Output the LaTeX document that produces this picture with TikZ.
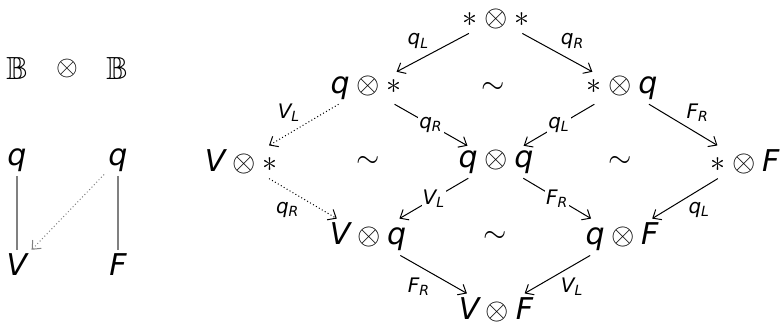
\RequirePackage{fix-cm}
\documentclass[tikz,border=0pt]{standalone}
\usepackage{amssymb}
\usepackage{fontspec}
\setmainfont{DejaVu Sans}
\usetikzlibrary{arrows.meta}
\newcommand{\mq}{\mathit{q}}
\newcommand{\mV}{\mathit{V}}
\newcommand{\mF}{\mathit{F}}
\newcommand{\sub}[1]{_{\mathit{#1}}}

\begin{document}
\begin{tikzpicture}[x=0.5pt, y=-0.5pt, every node/.style={font=\fontsize{15}{18}\selectfont, inner sep=2pt}, bb/.style={font=\fontsize{16}{19}\selectfont}, small/.style={font=\fontsize{14}{17}\selectfont}, lbl/.style={font=\fontsize{10}{12}\selectfont, inner sep=1.5pt}, onlbl/.style={lbl, fill=white, inner sep=0.5pt}, arrow/.style={-{Straight Barb[length=3.5pt, width=6pt]}, line width=0.5pt}, dotarrow/.style={arrow, dash pattern=on 0.5pt off 1.2pt}, bond/.style={draw=gray, line width=0.6pt}]
\useasboundingbox (0,0) rectangle (781,323);
% left: one factor
\node[bb] (bl) at (17,68) {$\mathbb{B}$};
\node[small] (ot) at (67,68) {$\otimes$};
\node[bb] (br) at (117,68) {$\mathbb{B}$};
\node (ql) at (17,160) {$\mq$};
\node (qr) at (118,160) {$\mq$};
\node (vl) at (17,265) {$\mV$};
\node (fr) at (118,265) {$\mF$};
\draw[bond] (ql) -- (vl);
\draw[bond] (qr) -- (fr);
\draw[dotarrow, gray] (qr) -- (vl);
% right: the product
\node (ss) at (496,19) {$\ast \otimes \ast$};
\node (qs) at (366,88) {$\mq \otimes \ast$};
\node (sq) at (622,88) {$\ast \otimes \mq$};
\node (vs) at (241,162) {$\mV \otimes \ast$};
\node (qq) at (496,162) {$\mq \otimes \mq$};
\node (sf) at (745,162) {$\ast \otimes \mF$};
\node (vq) at (368,237) {$\mV \otimes \mq$};
\node (qf) at (622,237) {$\mq \otimes \mF$};
\node (vf) at (496,310) {$\mV \otimes \mF$};
\node (t1) at (493,88) {$\sim$};
\node (t2) at (368,162) {$\sim$};
\node (t3) at (620,162) {$\sim$};
\node (t4) at (495,237) {$\sim$};
\draw[arrow] (ss) -- node[lbl, above left] {$\mq\sub{L}$} (qs);
\draw[arrow] (ss) -- node[lbl, above right] {$\mq\sub{R}$} (sq);
\draw[dotarrow] (qs) -- node[lbl, above left] {$\mV\sub{L}$} (vs);
\draw[arrow] (qs) -- node[onlbl] {$\mq\sub{R}$} (qq);
\draw[arrow] (sq) -- node[onlbl] {$\mq\sub{L}$} (qq);
\draw[arrow] (sq) -- node[lbl, above right] {$\mF\sub{R}$} (sf);
\draw[dotarrow] (vs) -- node[lbl, below left] {$\mq\sub{R}$} (vq);
\draw[arrow] (qq) -- node[onlbl] {$\mV\sub{L}$} (vq);
\draw[arrow] (qq) -- node[onlbl] {$\mF\sub{R}$} (qf);
\draw[arrow] (sf) -- node[lbl, below right] {$\mq\sub{L}$} (qf);
\draw[arrow] (vq) -- node[lbl, below left] {$\mF\sub{R}$} (vf);
\draw[arrow] (qf) -- node[lbl, below right] {$\mV\sub{L}$} (vf);
\end{tikzpicture}
\end{document}
